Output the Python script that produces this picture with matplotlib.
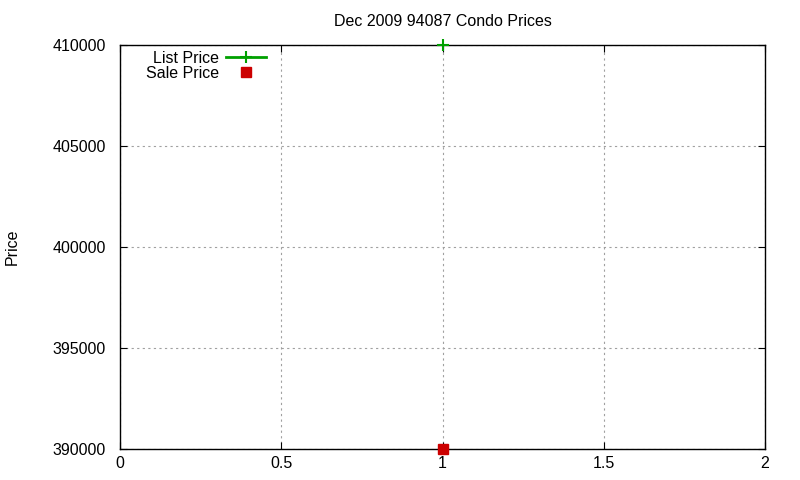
import matplotlib
matplotlib.use("Agg")
import matplotlib.pyplot as plt

plt.rcParams['font.family'] = ['Liberation Sans', 'DejaVu Sans']

x = [1]
list_price = [410000]
sale_price = [390000]
xticks = [0, 0.5, 1, 1.5, 2]
yticks = [390000, 395000, 400000, 405000, 410000]

fig = plt.figure(figsize=(8, 4.8), dpi=100)
ax = fig.add_axes([0.15, 0.0646, 0.80625, 0.84165])

ax.plot(x, list_price, color='#00a000', marker='+', markersize=8, markeredgewidth=1.5,
        linewidth=2, label='List Price', clip_on=False, zorder=5)
ax.plot(x, sale_price, color='#cc0000', marker='s', markersize=7, linestyle='none',
        label='Sale Price', clip_on=False, zorder=5)

ax.set_xlim(0, 2)
ax.set_ylim(390000, 410000)
ax.set_xticks(xticks)
ax.set_xticklabels(['0', '0.5', '1', '1.5', '2'])
ax.set_yticks(yticks)
ax.set_yticklabels([str(v) for v in yticks])
ax.tick_params(direction='in', top=True, right=True, length=5, labelsize=11.5)
ax.tick_params(axis='y', pad=10)
ax.tick_params(axis='x', pad=5)
ax.grid(True, color='#a0a0a0', linestyle=(0, (2, 3)), linewidth=0.8)
for s in ax.spines.values():
    s.set_linewidth(1.0)
ax.set_title('Dec 2009 94087 Condo Prices', fontsize=11.5, pad=14)
ax.set_ylabel('Price', fontsize=11.5)
ax.yaxis.set_label_coords(-0.156, 0.5)

leg = ax.legend(loc='upper left', bbox_to_anchor=(0.02, 1.018), frameon=False, markerfirst=False,
                fontsize=11.5, handlelength=2.5, labelspacing=0.0, handletextpad=0.45, borderpad=0.3)
try:
    for col in leg._legend_handle_box.get_children():
        col.align = 'right'
except Exception:
    pass

fig.savefig('out.png', dpi=100)
